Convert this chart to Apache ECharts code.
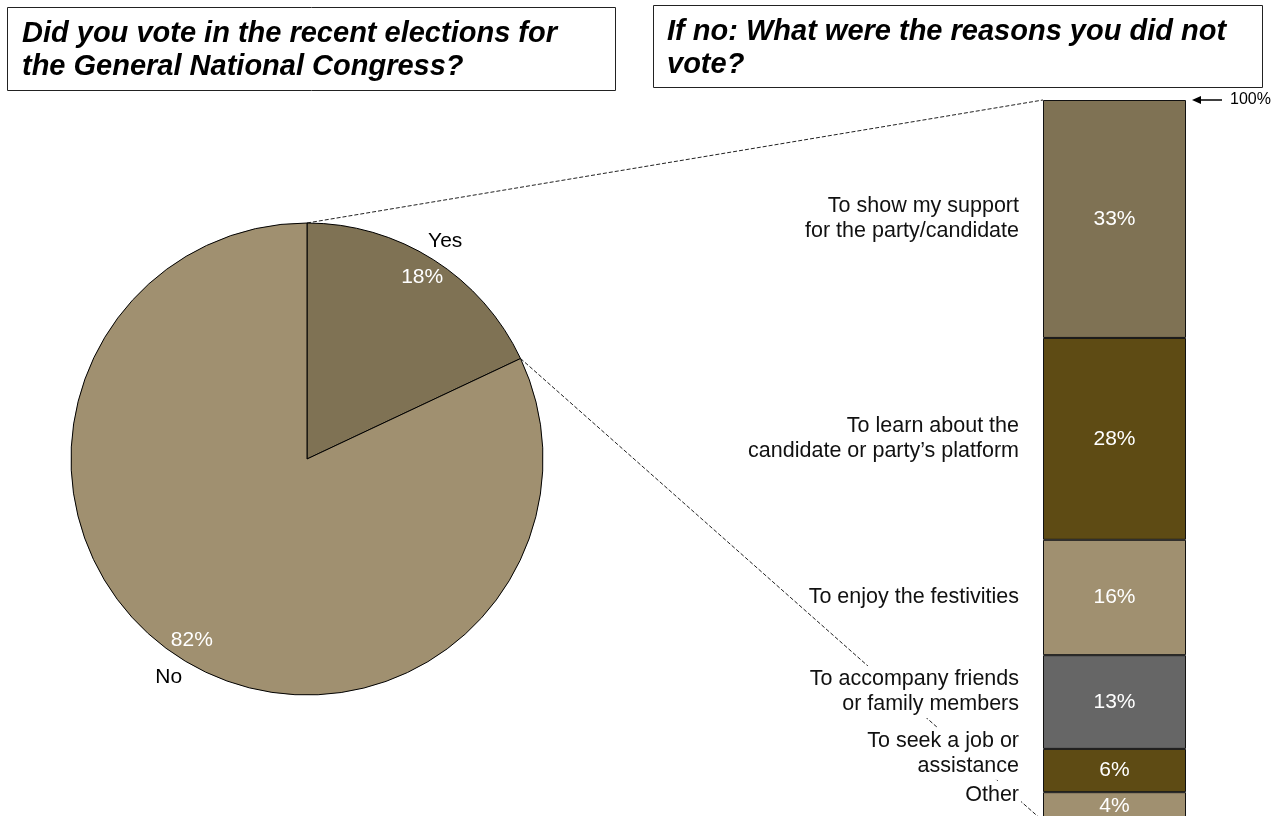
<!DOCTYPE html>
<html><head><meta charset="utf-8">
<script src="https://cdn.jsdelivr.net/npm/echarts@6/dist/echarts.min.js"></script>
<style>html,body{margin:0;padding:0;background:#fff}#c{width:1284px;height:816px}</style>
</head><body><div id="c"></div>
<script>
// ---- data ----
const pieNames = ['Yes', 'No'];
const pieValues = [18, 82];
const reasonNames = [
  'To show my support\nfor the party/candidate',
  'To learn about the\ncandidate or party\u2019s platform',
  'To enjoy the festivities',
  'To accompany friends\nor family members',
  'To seek a job or\nassistance',
  'Other'
];
const reasonValues = [33, 28, 16, 13, 6, 4];
const title1 = 'Did you vote in the recent elections for\nthe General National Congress?';
const title2 = 'If no: What were the reasons you did not\nvote?';
const topMarkText = '100%';

// ---- styles ----
const FONT = 'Liberation Sans, Arial, sans-serif';
const pieColors = ['#7f7254', '#a09070'];
const reasonColors = ['#7f7254', '#5e4b14', '#a09070', '#666666', '#5e4b14', '#a09070'];
const reasonLabelShift = [0, 0, 0, -10, -17, -12];
const PIE_C = [307, 459], PIE_R = 236;
const LABEL_SIZE = 21;

const chart = echarts.init(document.getElementById('c'), null, {renderer: 'canvas'});

const pieData = pieNames.map((n, i) => ({name: n, value: pieValues[i], itemStyle: {color: pieColors[i]}}));
const ghostData = pieNames.map((n, i) => ({name: n, value: pieValues[i]}));

const series = [
  {
    type: 'pie', center: PIE_C, radius: PIE_R, startAngle: 90, clockwise: true,
    data: pieData, label: {show: false}, labelLine: {show: false}, silent: true,
    itemStyle: {borderColor: '#000', borderWidth: 1}, z: 3
  },
  {
    type: 'pie', center: PIE_C, radius: [PIE_R - 48, PIE_R], startAngle: 90, clockwise: true,
    data: ghostData, silent: true, z: 4,
    itemStyle: {color: 'rgba(0,0,0,0)', borderWidth: 0},
    label: {show: true, position: 'inside', formatter: '{c}%', color: '#fff', fontSize: LABEL_SIZE, fontFamily: FONT},
    labelLine: {show: false}
  },
  {
    type: 'pie', center: PIE_C, radius: [PIE_R, PIE_R + 38], startAngle: 90, clockwise: true,
    data: ghostData, silent: true, z: 4,
    itemStyle: {color: 'rgba(0,0,0,0)', borderWidth: 0},
    label: {show: true, position: 'inside', formatter: '{b}', color: '#000', fontSize: LABEL_SIZE, fontFamily: FONT},
    labelLine: {show: false}
  }
];

// stacked bar (bottom segment first)
for (let i = reasonValues.length - 1; i >= 0; i--) {
  series.push({
    type: 'bar', stack: 'v', barWidth: '100%', name: reasonNames[i],
    data: [reasonValues[i]], z: 3, clip: false,
    itemStyle: {color: reasonColors[i], borderColor: '#111', borderWidth: 1},
    label: {show: true, position: 'inside', formatter: '{c}%', color: '#fff', fontSize: LABEL_SIZE, fontFamily: FONT}
  });
}
for (let i = reasonValues.length - 1; i >= 0; i--) {
  series.push({
    type: 'bar', stack: 'labels', barWidth: '100%', barGap: '-100%', name: 'l' + i,
    data: [{value: reasonValues[i], label: {offset: [0, reasonLabelShift[i]]}}], z: 5, silent: true, clip: false,
    itemStyle: {color: 'rgba(0,0,0,0)', borderWidth: 0},
    label: {show: true, position: 'left', distance: 22, formatter: reasonNames[i], color: '#111',
      fontSize: 21.5, fontFamily: FONT, lineHeight: 25, backgroundColor: '#fff', padding: [1, 2]}
  });
}

chart.setOption({
  animation: false,
  backgroundColor: '#fff',
  grid: {left: 1043, width: 143, top: 100, height: 721, containLabel: false, outerBoundsMode: 'none'},
  xAxis: {type: 'category', data: ['reasons'], show: false},
  yAxis: {type: 'value', min: 0, max: 100, show: false},
  series: series
});

// ---- connecting annotations computed from the laid-out marks ----
const model = chart.getModel();
const pieLayout = model.getSeriesByIndex(0).getData().getItemLayout(0);
const nBars = reasonValues.length;
const topBar = model.getSeriesByIndex(3 + nBars - 1).getData().getItemLayout(0);
const botBar = model.getSeriesByIndex(3).getData().getItemLayout(0);
const barLeft = Math.min(topBar.x, topBar.x + topBar.width);
const barRight = Math.max(topBar.x, topBar.x + topBar.width);
const barTop = Math.min(topBar.y, topBar.y + topBar.height);
const barBottom = Math.max(botBar.y, botBar.y + botBar.height);
const p1 = [pieLayout.cx + pieLayout.r * Math.cos(pieLayout.startAngle), pieLayout.cy + pieLayout.r * Math.sin(pieLayout.startAngle)];
const p2 = [pieLayout.cx + pieLayout.r * Math.cos(pieLayout.endAngle), pieLayout.cy + pieLayout.r * Math.sin(pieLayout.endAngle)];

const dash = {stroke: '#222', lineWidth: 1, lineDash: [4, 2]};
chart.setOption({
  graphic: [
    {type: 'line', z: 1, shape: {x1: p1[0], y1: p1[1], x2: barLeft, y2: barTop}, style: dash, silent: true},
    {type: 'line', z: 1, shape: {x1: p2[0], y1: p2[1], x2: barLeft, y2: barBottom}, style: dash, silent: true},
    {type: 'line', z: 1, shape: {x1: barRight + 14, y1: barTop, x2: barRight + 36, y2: barTop}, style: {stroke: '#000', lineWidth: 1.5}, silent: true},
    {type: 'polygon', z: 1, shape: {points: [[barRight + 6, barTop], [barRight + 15, barTop - 4], [barRight + 15, barTop + 4]]}, style: {fill: '#000'}, silent: true},
    {type: 'text', z: 1, x: barRight + 44, y: barTop, style: {text: topMarkText, font: '16px ' + FONT, fill: '#000', verticalAlign: 'middle'}, silent: true},
    {type: 'rect', z: 1, shape: {x: 7.5, y: 7.5, width: 608, height: 83}, style: {fill: '#fff', stroke: '#222', lineWidth: 1}, silent: true},
    {type: 'text', z: 2, x: 22, y: 17, style: {text: title1, font: 'italic bold 29px ' + FONT, fill: '#000', lineHeight: 33}, silent: true},
    {type: 'rect', z: 1, shape: {x: 653.5, y: 5.5, width: 609, height: 82}, style: {fill: '#fff', stroke: '#222', lineWidth: 1}, silent: true},
    {type: 'text', z: 2, x: 667, y: 15, style: {text: title2, font: 'italic bold 29px ' + FONT, fill: '#000', lineHeight: 33}, silent: true}
  ]
});
</script>
</body></html>
